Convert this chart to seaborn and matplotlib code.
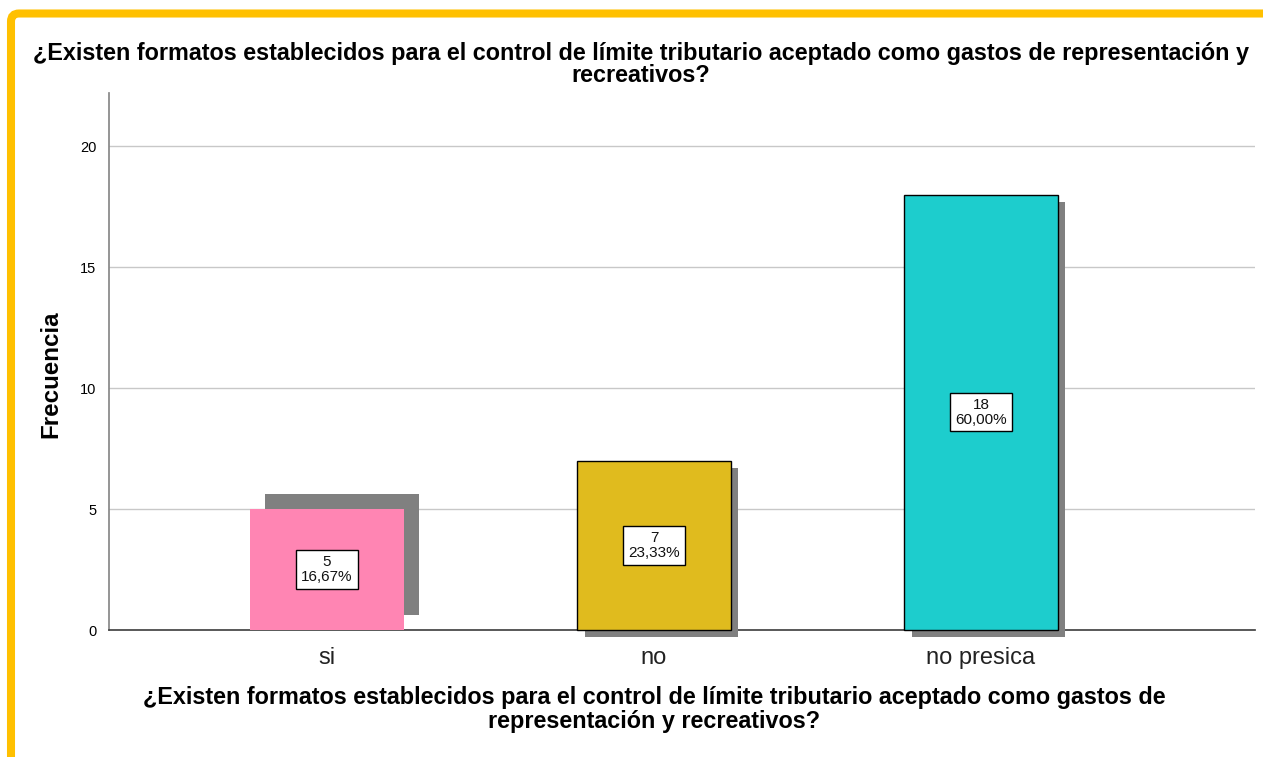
import matplotlib
matplotlib.use('Agg')
import matplotlib.pyplot as plt
import matplotlib.patheffects as pe
import matplotlib.transforms as mtransforms
from matplotlib.patches import FancyBboxPatch
import seaborn as sns
import pandas as pd

# data
categories = ['si', 'no', 'no presica']
counts = [5, 7, 18]
bar_colors = ['#FF85B3', '#E0BB1E', '#1DCDCD']
title_text = ('¿Existen formatos establecidos para el control de límite tributario aceptado como gastos de representación y\n'
              'recreativos?')
xlabel_text = ('¿Existen formatos establecidos para el control de límite tributario aceptado como gastos de\n'
               'representación y recreativos?')

df = pd.DataFrame({'cat': categories, 'n': counts})
total = sum(counts)

sns.set_theme(style='white')
plt.rcParams['font.family'] = ['Liberation Sans', 'DejaVu Sans']
plt.rcParams['text.color'] = 'black'
plt.rcParams['axes.labelcolor'] = 'black'

W, H = 1263, 757
fig = plt.figure(figsize=(W / 100, H / 100), dpi=100)
ax = fig.add_axes([109 / W, 1 - 630 / H, (1255 - 109) / W, (630 - 93) / H])

sns.barplot(data=df, x='cat', y='n', hue='cat', palette=bar_colors, saturation=1,
            width=0.47, legend=False, ax=ax, zorder=3)

# shadows and edges
for i, patch in enumerate(ax.patches):
    patch.set_clip_on(False)
    if i == 0:
        patch.set_edgecolor('none')
        off = (10.5, 10.5)
    else:
        patch.set_edgecolor('black')
        patch.set_linewidth(1)
        off = (5.4, -5.2)
    patch.set_path_effects([pe.SimplePatchShadow(offset=off, shadow_rgbFace='#808080', alpha=1),
                            pe.Normal()])

# value boxes
for i, c in enumerate(counts):
    pct = f'{c / total * 100:.2f}%'.replace('.', ',')
    ax.text(i, c / 2, f'{c}\n{pct}', ha='center', va='center', fontsize=11,
            linespacing=1.05, zorder=5, color='#111111',
            bbox=dict(boxstyle='square,pad=0.32', fc='white', ec='black', lw=1))

ax.set_xlim(-0.667, 2.838)
ax.set_ylim(0, 22.2)
ax.set_yticks([0, 5, 10, 15, 20])
ax.yaxis.grid(True, color='#C8C8C8', lw=1, zorder=0)
ax.set_axisbelow(True)
for s in ['top', 'right']:
    ax.spines[s].set_visible(False)
ax.spines['left'].set_color('#888888')
ax.spines['bottom'].set_color('#444444')
ax.tick_params(axis='y', length=0, pad=9, labelsize=10.5, colors='black')
ax.tick_params(axis='x', length=0, pad=12, labelsize=17, colors='#222222')

ax.set_ylabel('Frecuencia', fontsize=17.4, fontweight='bold')
ax.yaxis.set_label_coords(-0.041, 0.477)
ax.set_xlabel(xlabel_text, fontsize=16.8, fontweight='bold', linespacing=1.09)
ax.xaxis.set_label_coords((654 - 109) / (1255 - 109), -0.104)

fig.text(641 / W, 1 - 64.5 / H, title_text, ha='center', va='center',
         fontsize=16.8, fontweight='bold', linespacing=0.95)

# yellow frame on top and left
frame = FancyBboxPatch((11, -60), 1500, H - 13.5 + 60,
                       boxstyle='round,pad=0,rounding_size=8',
                       fc='none', ec='#FFC000', lw=5.8,
                       transform=mtransforms.IdentityTransform())
fig.add_artist(frame)

fig.savefig('out.png', dpi=100)
